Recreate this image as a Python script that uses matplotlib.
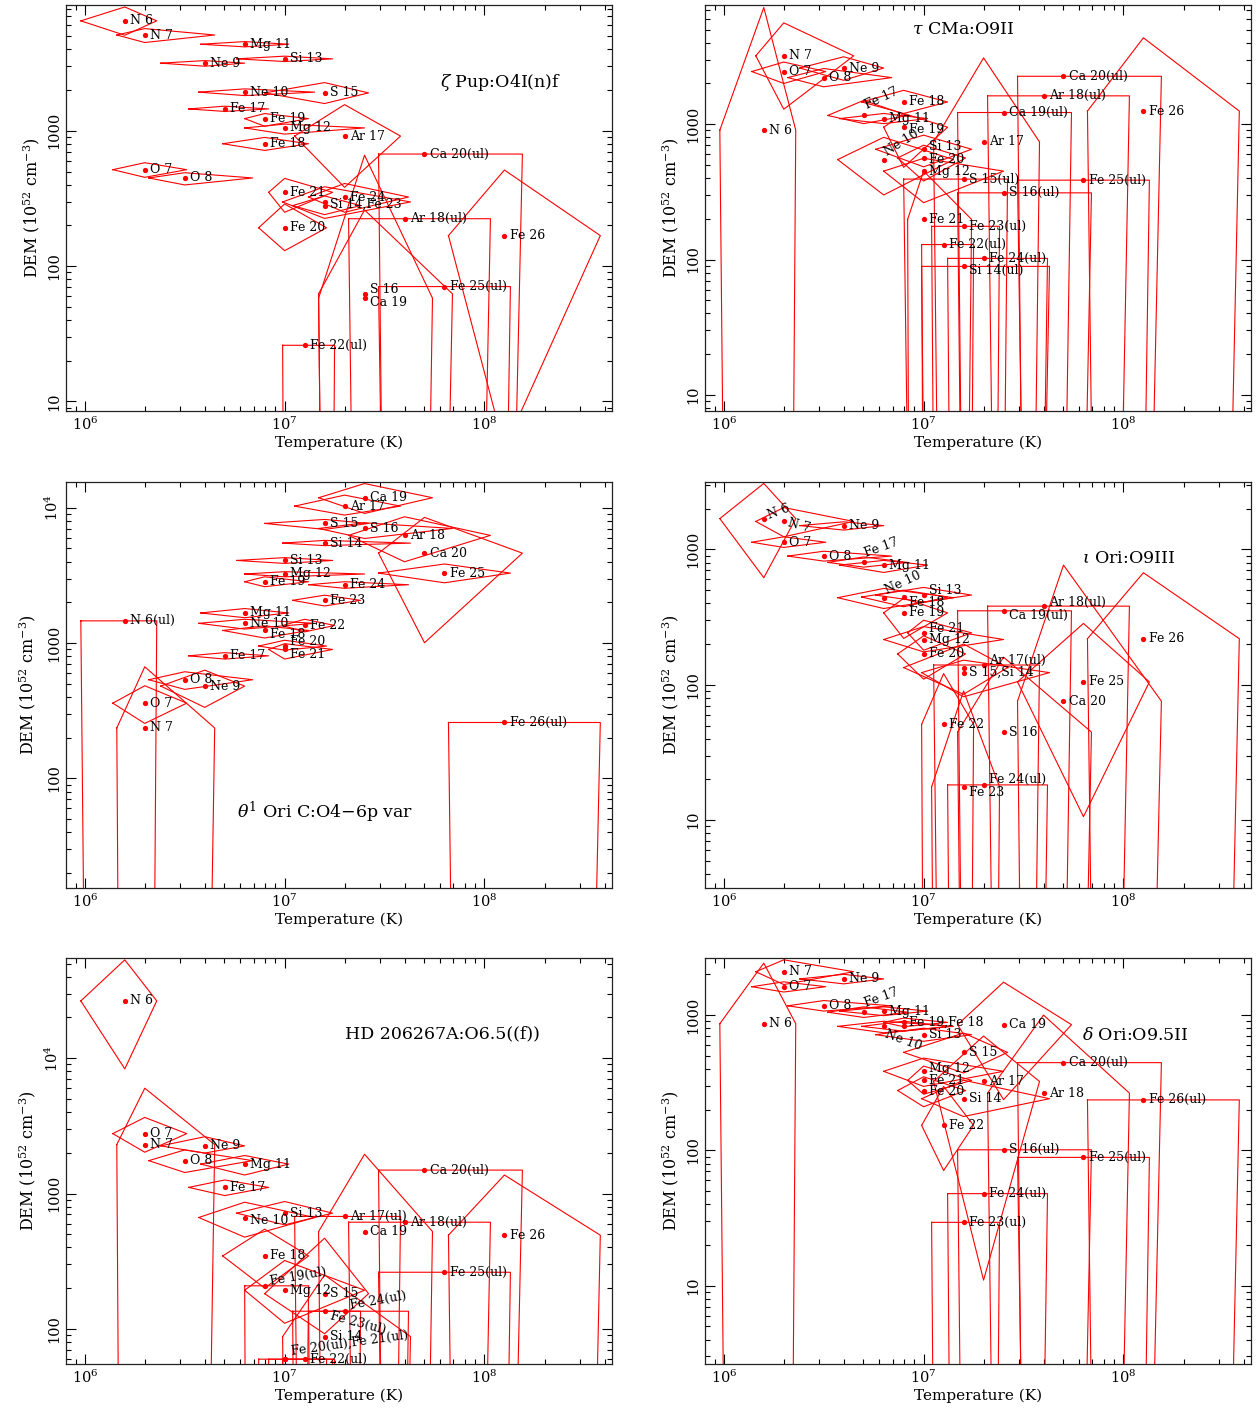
import numpy as np
import matplotlib
matplotlib.use("Agg")
import matplotlib.pyplot as plt
from matplotlib.ticker import LogLocator, FuncFormatter, NullFormatter

plt.rcParams['font.family'] = ['DejaVu Serif']
plt.rcParams['mathtext.fontset'] = 'dejavuserif'

# ion: log T of peak emissivity and emissivity range (log K)
ions = ["N 6", "N 7", "O 7", "O 8", "Ne 9", "Ne 10", "Mg 11", "Mg 12", "Si 13", "Si 14",
        "S 15", "S 16", "Ar 17", "Ar 18", "Ca 19", "Ca 20",
        "Fe 17", "Fe 18", "Fe 19", "Fe 20", "Fe 21", "Fe 22", "Fe 23", "Fe 24", "Fe 25", "Fe 26"]
ion_logt = [6.2, 6.3, 6.3, 6.5, 6.6, 6.8, 6.8, 7.0, 7.0, 7.2,
            7.2, 7.4, 7.3, 7.6, 7.4, 7.7,
            6.7, 6.9, 6.9, 7.0, 7.0, 7.1, 7.2, 7.3, 7.8, 8.1]
ion_logt_lo = [5.98, 6.16, 6.14, 6.32, 6.38, 6.57, 6.58, 6.80, 6.76, 6.99,
               6.90, 7.17, 7.05, 7.32, 7.17, 7.47,
               6.52, 6.69, 6.80, 6.87, 6.92, 6.99, 7.04, 7.12, 7.47, 7.82]
ion_logt_hi = [6.36, 6.65, 6.51, 6.84, 6.80, 7.15, 7.02, 7.40, 7.24, 7.63,
               7.42, 7.84, 7.58, 8.03, 7.74, 8.19,
               6.92, 7.12, 7.12, 7.21, 7.24, 7.25, 7.38, 7.62, 8.13, 8.58]

# DEM (1e52 cm^-3): value, upper and lower extent (lower 0 = unbounded, ul has upper = value)
zpup_ion = ["N 6", "N 7", "Mg 11", "Si 13", "Ne 9", "Ne 10", "S 15", "Fe 17", "Fe 19", "Mg 12",
            "Ar 17", "Fe 18", "Ca 20", "O 7", "O 8", "Fe 21", "Fe 24", "Si 14", "Fe 23", "Ar 18",
            "Fe 20", "Fe 26", "Fe 25", "S 16", "Ca 19", "Fe 22"]
zpup_dem = [6490, 5100, 4360, 3400, 3160, 1930, 1905, 1450, 1230, 1050,
            914, 802, 673, 516, 448, 351, 324, 298, 280, 224,
            192, 168, 70.6, 62.4, 58, 26]
zpup_hi = [8220, 5690, 4560, 3560, 3300, 2040, 2270, 1520, 1340, 1120,
           1560, 893, 673, 581, 490, 445, 408, 386, 330, 224,
           288, 513, 70.6, 260, 660, 26]
zpup_lo = [5080, 4490, 4170, 3250, 3000, 1820, 1590, 1390, 1080, 945,
           382, 716, 0, 453, 398, 250, 250, 225, 240, 0,
           130, 4.5, 0, 0, 0, 0]
zpup_label = ["N 6", "N 7", "Mg 11", "Si 13", "Ne 9", "Ne 10", "S 15", "Fe 17", "Fe 19", "Mg 12",
              "Ar 17", "Fe 18", "Ca 20(ul)", "O 7", "O 8", "Fe 21", "Fe 24", "Si 14,Fe 23", "", "Ar 18(ul)",
              "Fe 20", "Fe 26", "Fe 25(ul)", "S 16", "Ca 19", "Fe 22(ul)"]

tau_ion = ["N 7", "O 7", "Ne 9", "O 8", "N 6", "Fe 17", "Fe 18", "Mg 11", "Fe 19", "Ne 10",
           "Si 13", "Fe 20", "Mg 12", "S 15", "Fe 25", "S 16", "Fe 21", "Ar 17", "Ca 19", "Ar 18",
           "Ca 20", "Fe 26", "Fe 23", "Fe 22", "Fe 24", "Si 14"]
tau_dem = [3200, 2450, 2600, 2210, 904, 1160, 1460, 1100, 950, 548,
           653, 563, 450, 393, 386, 311, 198, 740, 1220, 1620,
           2260, 1250, 176, 129, 102, 89]
tau_hi = [5610, 2880, 3150, 2580, 7280, 1500, 1780, 1200, 1200, 800,
          830, 700, 560, 393, 386, 311, 450, 3090, 1220, 1620,
          2260, 4350, 176, 129, 102, 89]
tau_lo = [1290, 2000, 2110, 1890, 0, 1010, 1200, 1010, 480, 300,
          484, 380, 263, 0, 0, 0, 0, 0, 0, 0,
          0, 0, 0, 0, 0, 0]
tau_label = ["N 7", "O 7", "Ne 9", "O 8", "N 6", "Fe 17", "Fe 18", "Mg 11", "Fe 19", "Ne 10",
             "Si 13", "Fe 20", "Mg 12", "S 15(ul)", "Fe 25(ul)", "S 16(ul)", "Fe 21", "Ar 17", "Ca 19(ul)", "Ar 18(ul)",
             "Ca 20(ul)", "Fe 26", "Fe 23(ul)", "Fe 22(ul)", "Fe 24(ul)", "Si 14(ul)"]

theta_ion = ["Ca 19", "Ar 17", "S 15", "S 16", "Ar 18", "Si 14", "Ca 20", "Si 13", "Fe 25", "Mg 12",
             "Fe 19", "Fe 24", "Fe 23", "Mg 11", "N 6", "Ne 10", "Fe 22", "Fe 18", "Fe 20", "Fe 21",
             "Fe 17", "O 8", "Ne 9", "O 7", "N 7", "Fe 26"]
theta_dem = [11860, 10280, 7660, 7030, 6250, 5480, 4620, 4080, 3290, 3240,
             2840, 2700, 2070, 1670, 1460, 1400, 1350, 1240, 951, 898,
             805, 536, 481, 360, 236, 259]
theta_hi = [15100, 12400, 8200, 7740, 8580, 5740, 8490, 4280, 3840, 3370,
            3090, 2840, 2260, 1800, 1460, 1500, 1500, 1340, 1050, 990,
            850, 614, 631, 484, 668, 259]
theta_lo = [9080, 8830, 6920, 5930, 3990, 5250, 1006, 3880, 2790, 3090,
            2610, 2540, 1880, 1540, 0, 1270, 1210, 1090, 887, 762,
            762, 455, 335, 255, 0, 0]
theta_label = ["Ca 19", "Ar 17", "S 15", "S 16", "Ar 18", "Si 14", "Ca 20", "Si 13", "Fe 25", "Mg 12",
               "Fe 19", "Fe 24", "Fe 23", "Mg 11", "N 6(ul)", "Ne 10", "Fe 22", "Fe 18", "Fe 20", "Fe 21",
               "Fe 17", "O 8", "Ne 9", "O 7", "N 7", "Fe 26(ul)"]

iota_ion = ["N 6", "N 7", "Ne 9", "O 7", "O 8", "Fe 17", "Mg 11", "Ne 10", "Si 13", "Fe 18",
            "Fe 19", "Fe 21", "Mg 12", "Fe 20", "Ar 17", "S 15", "Si 14", "Ar 18", "Ca 19", "Fe 26",
            "Fe 25", "Ca 20", "Fe 22", "S 16", "Fe 24", "Fe 23"]
iota_dem = [1690, 1610, 1500, 1130, 893, 802, 766, 440, 460, 445,
            340, 242, 216, 169, 140, 134, 123, 381, 352, 219,
            105, 75.7, 51, 44.7, 18.2, 17.6]
iota_hi = [3075, 2040, 1600, 1240, 970, 880, 830, 515, 524, 500,
           435, 300, 269, 230, 140, 200, 152, 381, 352, 673,
           284, 766, 121, 160, 18.2, 90]
iota_lo = [618, 1240, 1390, 1035, 820, 740, 676, 366, 409, 377,
           220, 180, 175, 110, 0, 85, 81.5, 0, 0, 0,
           10.6, 0, 0, 0, 0, 0]
iota_label = ["N 6", "N 7", "Ne 9", "O 7", "O 8", "Fe 17", "Mg 11", "Ne 10", "Si 13", "Fe 18",
              "Fe 19", "Fe 21", "Mg 12", "Fe 20", "Ar 17(ul)", "", "S 15,Si 14", "Ar 18(ul)", "Ca 19(ul)", "Fe 26",
              "Fe 25", "Ca 20", "Fe 22", "S 16", "Fe 24(ul)", "Fe 23"]

hd_ion = ["N 6", "O 7", "N 7", "Ne 9", "O 8", "Mg 11", "Fe 17", "Si 13", "Ar 17", "Ne 10",
          "Ar 18", "Ca 20", "Ca 19", "Fe 26", "Fe 18", "Fe 25", "Fe 19", "Mg 12", "S 15", "Fe 23",
          "Fe 24", "Si 14", "Fe 20", "Fe 21", "Fe 22"]
hd_dem = [26500, 2770, 2300, 2250, 1750, 1650, 1110, 716, 677, 665,
          614, 1490, 524, 492, 346, 262, 208, 193, 182, 135,
          135, 87.7, 59.7, 59.7, 59.7]
hd_hi = [53300, 3650, 6000, 2630, 2100, 1910, 1260, 873, 677, 863,
         614, 1490, 1950, 1370, 545, 262, 208, 320, 468, 135,
         135, 250, 59.7, 59.7, 59.7]
hd_lo = [8340, 2020, 0, 1990, 1430, 1370, 966, 587, 0, 476,
         0, 0, 0, 0, 200, 0, 0, 110, 92, 0,
         0, 0, 0, 0, 0]
hd_label = ["N 6", "O 7", "N 7", "Ne 9", "O 8", "Mg 11", "Fe 17", "Si 13", "Ar 17(ul)", "Ne 10",
            "Ar 18(ul)", "Ca 20(ul)", "Ca 19", "Fe 26", "Fe 18", "Fe 25(ul)", "Fe 19(ul)", "Mg 12", "S 15", "Fe 23(ul)",
            "Fe 24(ul)", "Si 14", "Fe 20(ul),Fe 21(ul)", "", "Fe 22(ul)"]

delta_ion = ["N 7", "Ne 9", "O 7", "O 8", "Fe 17", "Mg 11", "N 6", "Fe 19", "Fe 18", "Ca 19",
             "Ne 10", "Si 13", "S 15", "Mg 12", "Fe 21", "Ar 17", "Fe 20", "Si 14", "Fe 22", "Ar 18",
             "Ca 20", "Fe 26", "S 16", "Fe 25", "Fe 24", "Fe 23"]
delta_dem = [2090, 1850, 1620, 1170, 1050, 1070, 863, 883, 825, 849,
             825, 716, 530, 384, 329, 323, 277, 241, 153, 265,
             445, 236, 101, 88.8, 47.9, 29.4]
delta_hi = [2560, 2000, 1760, 1280, 1150, 1150, 2420, 950, 900, 1750,
            900, 800, 736, 481, 420, 700, 350, 330, 297, 1000,
            445, 236, 101, 88.8, 47.9, 29.4]
delta_lo = [1680, 1700, 1480, 1070, 960, 990, 0, 820, 760, 237,
            740, 640, 373, 297, 260, 11, 210, 178, 71, 0,
            0, 0, 0, 0, 0, 0]
delta_label = ["N 7", "Ne 9", "O 7", "O 8", "Fe 17", "Mg 11", "N 6", "Fe 19,Fe 18", "", "Ca 19",
               "Ne 10", "Si 13", "S 15", "Mg 12", "Fe 21", "Ar 17", "Fe 20", "Si 14", "Fe 22", "Ar 18",
               "Ca 20(ul)", "Fe 26(ul)", "S 16(ul)", "Fe 25(ul)", "Fe 24(ul)", "Fe 23(ul)"]

titles = [r"$\zeta$ Pup:O4I(n)f", r"$\tau$ CMa:O9II", r"$\theta^1$ Ori C:O4$-$6p var",
          r"$\iota$ Ori:O9III", r"HD 206267A:O6.5((f))", r"$\delta$ Ori:O9.5II"]

# label tweaks: (dx pt, dy pt, rotation)
label_adjust = {
    (0, "S 16"): (4, 3, 0), (0, "Ca 19"): (4, -3, 0), (0, "Si 14"): (4, -2, 0),
    (1, "Fe 17"): (1, 7, 25), (1, "Ne 10"): (1, 5, 32),
    (1, "Si 13"): (4, 2, 0), (1, "Fe 20"): (4, -1, 0),
    (1, "Si 14"): (4, -3, 0), (1, "Fe 19"): (4, -2, 0),
    (2, "Fe 20"): (4, 3, 0), (2, "Fe 21"): (4, -4, 0), (2, "Fe 18"): (4, -3, 0),
    (3, "N 6"): (3, 2, 20), (3, "N 7"): (3, -1, -15), (3, "Fe 17"): (1, 6, 20),
    (3, "Ne 10"): (1, 5, 25), (3, "Fe 23"): (4, -4, 0), (3, "Fe 24"): (4, 4, 0),
    (3, "Fe 18"): (4, -4, 0), (3, "Si 13"): (4, 3, 0), (3, "Fe 21"): (4, 3, 0),
    (3, "Ar 18"): (4, 3, 0), (3, "Ca 19"): (4, -3, 0), (3, "Ar 17"): (4, 3, 0),
    (4, "Fe 19"): (4, 3, 10), (4, "Fe 23"): (4, -3, -15), (4, "Fe 24"): (4, 4, 10),
    (4, "Fe 20"): (5, 6, 8), (4, "Ne 10"): (4, -2, 0),
    (5, "Ne 10"): (1, -5, -20), (5, "Fe 17"): (1, 6, 20),
    (5, "Mg 12"): (4, 2, 0), (5, "Fe 20"): (4, -1, 0),
}

panels = [
    (zpup_ion, zpup_dem, zpup_hi, zpup_lo, zpup_label, (8.5, 8500), (0.685, 0.81)),
    (tau_ion, tau_dem, tau_hi, tau_lo, tau_label, (7.6, 7600), (0.38, 0.94)),
    (theta_ion, theta_dem, theta_hi, theta_lo, theta_label, (15.5, 15500), (0.313, 0.187)),
    (iota_ion, iota_dem, iota_hi, iota_lo, iota_label, (3.15, 3150), (0.69, 0.813)),
    (hd_ion, hd_dem, hd_hi, hd_lo, hd_label, (55, 55000), (0.511, 0.813)),
    (delta_ion, delta_dem, delta_hi, delta_lo, delta_label, (2.64, 2640), (0.69, 0.81)),
]

W, H = 1259, 1410
fig = plt.figure(figsize=(W / 100, H / 100), dpi=100)

col_left = [66, 705]
row_top = [5, 482, 958]
ax_w, ax_h = 546, 406


def ytick_fmt(v, pos):
    if v >= 1e4:
        return r"$10^{%d}$" % round(np.log10(v))
    return "%d" % round(v)


for i, (ion_list, dem, hi, lo, labels, ylim, title_xy) in enumerate(panels):
    r, c = divmod(i, 2)
    ax = fig.add_axes([col_left[c] / W, 1 - (row_top[r] + ax_h) / H, ax_w / W, ax_h / H])
    ax.set_xscale('log')
    ax.set_yscale('log')

    temps = []
    for name, d, h, l in zip(ion_list, dem, hi, lo):
        k = ions.index(name)
        t = 10 ** ion_logt[k]
        t_lo = 10 ** ion_logt_lo[k]
        t_hi = 10 ** ion_logt_hi[k]
        l = l if l > 0 else 1e-30
        ax.plot([t_lo, t, t_hi, t, t_lo], [d, h, d, l, d], color='red', lw=0.8)
        temps.append(t)

    ax.plot(temps, dem, 'o', color='red', ms=3.8, mec='none')

    for name, t, d, lab in zip(ion_list, temps, dem, labels):
        if not lab:
            continue
        dx, dy, rot = label_adjust.get((i, name), (4, 0, 0))
        ax.annotate(lab, (t, d), xytext=(dx, dy), textcoords='offset points',
                    ha='left', va='center', fontsize=9, rotation=rot,
                    rotation_mode='anchor')

    ax.text(title_xy[0], title_xy[1], titles[i], transform=ax.transAxes,
            fontsize=12.5, ha='left', va='center')

    ax.set_xlim(8.05e5, 4.35e8)
    ax.set_ylim(*ylim)
    ax.xaxis.set_major_locator(LogLocator(base=10, numticks=10))
    ax.xaxis.set_minor_locator(LogLocator(base=10, subs=np.arange(2, 10), numticks=20))
    ax.yaxis.set_major_locator(LogLocator(base=10, numticks=10))
    ax.yaxis.set_minor_locator(LogLocator(base=10, subs=np.arange(2, 10), numticks=20))
    ax.yaxis.set_major_formatter(FuncFormatter(ytick_fmt))
    ax.yaxis.set_minor_formatter(NullFormatter())
    ax.tick_params(which='both', direction='in', top=True, right=True, width=0.8)
    ax.tick_params(which='major', length=7, labelsize=10.5)
    ax.tick_params(which='minor', length=3.5)
    for lab in ax.get_yticklabels():
        lab.set_rotation(90)
        lab.set_va('center')
    for s in ax.spines.values():
        s.set_linewidth(0.9)
        s.set_color('#222222')
    ax.set_xlabel("Temperature (K)", fontsize=11, labelpad=2)
    ax.set_ylabel(r"DEM (10$^{52}$ cm$^{-3}$)", fontsize=11.5, labelpad=4)

fig.savefig("out.png", dpi=100)
